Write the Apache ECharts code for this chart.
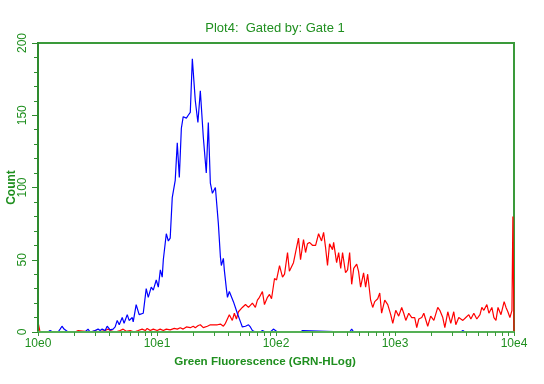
<!DOCTYPE html>
<html>
<head>
<meta charset="utf-8">
<script src="https://cdn.jsdelivr.net/npm/echarts@6/dist/echarts.min.js"></script>
<style>html,body{margin:0;padding:0;background:#fff}#c{width:544px;height:384px}</style>
</head>
<body>
<div id="c"></div>
<script>
// Channel positions (256 log channels over 4 decades) and counts
const blueCh = [0,5.4,6.5,8.1,10.8,11.9,12.9,14.0,15.1,16.2,25.3,26.9,28.0,30.7,32.3,33.4,34.5,36.1,37.2,38.8,40.4,41.5,42.6,43.7,45.3,46.3,48.0,49.0,50.7,51.2,52.8,54.4,56.6,58.2,59.3,60.9,62.0,63.6,64.7,65.8,66.8,67.4,69.0,70.1,71.1,72.2,72.8,73.8,74.9,76.0,77.1,78.1,79.8,80.8,81.9,83.0,84.6,86.0,87.3,88.9,90.5,91.6,92.7,93.8,95.4,97.0,98.1,98.6,99.7,100.2,101.3,101.9,102.9,105.1,107.2,108.9,109.9,111.6,113.2,114.2,115.3,116.9,119.6,120.7,122.3,125.0,126.6,127.7,128.8,141.2,142.3,143.3,167.6,168.7,169.8,227.4,228.5,229.6,255.4];
const blueCount = [0,0,1,0,0,2,4,2,1,0,0,2,0,1,2,1,2,1,4,1.5,2,3.5,8,5,10,6,12,8,10,7,19,12,13,30,24,31,29,36,31,43,38,50,68,63,65,93,93,105,131,107,141,149,148,150,152,189,160,145,167,135,110,145,103,96,100,75,52,46,51,43,30,24,28,21,13,7,3.5,4,5,3.5,1,0,0,1,0,0,2,1,0,0,1,0,0,2,0,0,1,0,0];
const redCh = [0,1.1,19.9,21.6,22.6,29.1,30.7,32.3,36.1,37.7,38.8,41.5,44.2,45.8,47.4,49.6,51.7,53.9,56.0,57.7,58.7,60.4,62.0,64.1,65.7,67.4,69.0,71.1,73.3,74.9,76.5,78.1,79.8,81.9,83.5,84.6,86.2,87.3,88.9,91.1,92.7,94.3,96.5,98.1,99.7,100.8,102.9,104.5,105.6,106.7,107.8,109.9,111.6,113.2,115.3,116.9,118.0,119.1,120.7,121.8,123.4,124.5,125.6,127.2,128.3,129.9,131.5,132.6,134.2,135.2,137.4,138.5,140.1,141.2,142.8,143.9,144.9,146.0,147.6,149.3,150.9,152.5,153.6,154.7,155.7,156.8,158.4,159.0,160.6,161.7,162.8,163.8,165.4,166.5,167.6,168.7,169.8,171.4,172.4,173.5,175.1,176.2,177.3,178.9,180.0,181.1,182.7,183.8,184.8,186.5,188.1,189.7,190.8,192.4,194.0,195.6,196.7,197.8,199.4,201.0,202.6,203.7,204.8,206.4,207.5,209.6,211.2,212.9,215.0,216.1,217.7,218.8,220.4,222.0,223.6,224.7,226.3,228.5,230.1,231.7,232.8,234.4,236.0,237.7,238.7,239.8,241.4,242.5,244.1,245.2,246.3,247.4,249.0,250.7,251.7,252.7,253.8,254.9,255.4,256];
const redCount = [7,0,0,1,0,0,1,0,1,2,1,0,1,2,0.5,1,0,1,2,1,2.5,1,2,1,2,1,2,1.5,2.5,2,3,2,3.5,3,4,3,4.5,5,3,4,5,5,5,5.5,4,6,12,8,13,9,14,17,19,17,20,17,22,24,28,19,24,26,23,37,36,46,38,40,55,42,48,55,65,50,64,55,61,62,60,60,68,63,69,58,46,61,57,62,48,55,44,55,41,43,55,33,44,47,42,31,41,31,40,22,17,21,23,27,13,22,19,12,6,15,11,17,13,8,13,10,10,3,9,10,13,4,11,8,17,15,10,3,14,6,14,5,10,8,10,12,9,13,9,12,17,15,19,13,17,10,8,17,12,21,17,14,10,15,80,0];
const xTickValues = [1,10,100,1000,10000];
const xTickLabels = ['10e0','10e1','10e2','10e3','10e4'];
const yMin = 0, yMax = 200, yStep = 50;
const titleText = 'Plot4:  Gated by: Gate 1';
const xName = 'Green Fluorescence (GRN-HLog)';
const yName = 'Count';

const chToValue = ch => Math.pow(10, ch / 64);
const toPairs = (chs, counts) => chs.map((c, i) => [chToValue(c), counts[i]]);
const minorValues = [];
for (let d = 0; d < 4; d++) for (let k = 2; k <= 9; k++) minorValues.push(k * Math.pow(10, d));

const green = '#1f8f1f';
const chart = echarts.init(document.getElementById('c'), null, {renderer: 'canvas'});
chart.setOption({
  animation: false,
  title: {
    text: titleText, left: 270, top: 17, textAlign: 'center',
    textStyle: {color: green, fontSize: 13, fontWeight: 'normal', fontFamily: 'Liberation Sans'}
  },
  grid: {left: 38, right: 30, top: 43, bottom: 52, show: true, borderColor: '#3a9a3a', borderWidth: 2,
    backgroundColor: 'transparent', containLabel: false, outerBoundsMode: 'none'},
  xAxis: [{
    type: 'log', min: 1, max: 10000, logBase: 10, z: 10,
    name: xName, nameLocation: 'middle', nameGap: 24, nameMoveOverlap: false,
    nameTextStyle: {color: green, fontSize: 11.6, fontWeight: 'bold', fontFamily: 'Liberation Sans', padding: [0, 22, 0, 0]},
    axisLine: {show: true, lineStyle: {color: '#55b055', width: 2}},
    axisTick: {show: true, customValues: xTickValues, length: 4, lineStyle: {color: '#3a9a3a'}},
    axisLabel: {customValues: xTickValues, color: green, fontSize: 12, fontFamily: 'Liberation Sans', margin: 6,
      formatter: v => xTickLabels[xTickValues.findIndex(t => Math.abs(t - v) / t < 1e-6)] || ''},
    splitLine: {show: false}, minorTick: {show: false}
  }, {
    type: 'log', min: 1, max: 10000, logBase: 10, position: 'bottom', z: 10,
    axisLine: {show: false},
    axisTick: {show: true, customValues: minorValues, length: 4, lineStyle: {color: '#3a9a3a'}},
    axisLabel: {show: false}, splitLine: {show: false}
  }],
  yAxis: {
    type: 'value', min: yMin, max: yMax, interval: yStep, z: 10,
    name: yName, nameLocation: 'middle', nameGap: 20, nameMoveOverlap: false,
    nameTextStyle: {color: green, fontSize: 12, fontWeight: 'bold', fontFamily: 'Liberation Sans'},
    axisLine: {show: true, lineStyle: {color: '#2e8b2e', width: 2}},
    axisTick: {show: true, length: 6, lineStyle: {color: '#2e8b2e'}},
    minorTick: {show: true, splitNumber: 5, length: 4, lineStyle: {color: '#2e8b2e'}},
    axisLabel: {rotate: 90, color: green, fontSize: 12, fontFamily: 'Liberation Sans', margin: 9},
    splitLine: {show: false}, minorSplitLine: {show: false}
  },
  series: [{
    type: 'line', xAxisIndex: 0, data: toPairs(redCh, redCount), showSymbol: false,
    lineStyle: {color: '#ff0000', width: 1.2}, z: 3
  }, {
    type: 'line', xAxisIndex: 0, data: toPairs(blueCh, blueCount), showSymbol: false,
    lineStyle: {color: '#0000ff', width: 1.2}, z: 4
  }]
});
</script>
</body>
</html>
